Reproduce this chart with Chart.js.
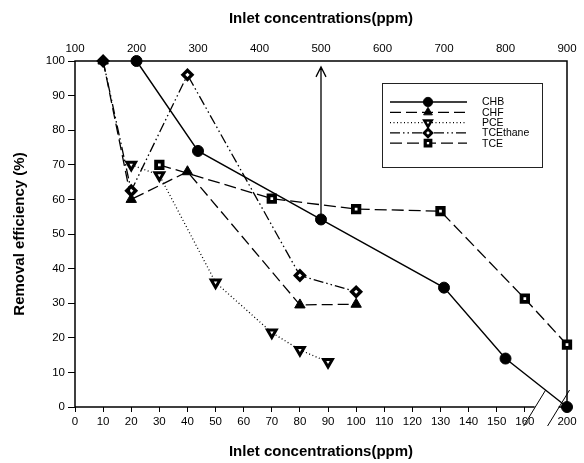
<!DOCTYPE html>
<html><head><meta charset="utf-8">
<script src="https://cdn.jsdelivr.net/npm/chart.js@4.4.0/dist/chart.umd.min.js"></script>
<style>html,body{margin:0;padding:0;background:#fff;}</style>
</head><body>
<canvas id="c" width="584" height="463"></canvas>
<script>
// ---- data ----
const seriesNames = ['CHB', 'CHF', 'PCE', 'TCEthane', 'TCE'];
const chbX = [200, 300, 500, 700, 800, 900];        // top axis (ppm)
const chbY = [100, 74, 54.2, 34.5, 14, 0];
const chfX = [10, 20, 40, 80, 100];                 // bottom axis (ppm)
const chfY = [100, 60, 68, 29.5, 29.7];
const pceX = [20, 30, 50, 70, 80, 90];
const pceY = [70, 67, 36, 21.5, 16.5, 13];
const tceaX = [10, 20, 40, 80, 100];
const tceaY = [100, 62.5, 96, 38, 33.3];
const tceX = [30, 70, 100, 130, 160, 200];
const tceY = [70, 60.2, 57.2, 56.6, 31.3, 18];
const bottomTicks = [0, 10, 20, 30, 40, 50, 60, 70, 80, 90, 100, 110, 120, 130, 140, 150, 160, 200];
const topTicks = [100, 200, 300, 400, 500, 600, 700, 800, 900];
const yTicks = [0, 10, 20, 30, 40, 50, 60, 70, 80, 90, 100];
const arrowAt = 500, arrowFrom = 54.2, arrowTo = 98.3;
const breakStart = 160, breakEnd = 200, breakSpan = 15;
const breakMarks = [163.5, 172];

// broken bottom axis: 160..200 compressed into 15 units
function brk(v) { return v <= breakStart ? v : breakStart + (v - breakStart) * breakSpan / (breakEnd - breakStart); }
function pts(xs, ys, bottom) { return xs.map((x, i) => ({ x: bottom ? brk(x) : x, y: ys[i] })); }

const FONT = "'Liberation Sans', Arial, sans-serif";
const black = '#000';

const datasets = [
  { label: seriesNames[0], data: pts(chbX, chbY, false), xAxisID: 'x2',
    borderColor: black, borderWidth: 1.4, pointStyle: 'circle', pointRadius: 5.5,
    pointBackgroundColor: black, pointBorderColor: black, pointBorderWidth: 1 },
  { label: seriesNames[1], data: pts(chfX, chfY, true), xAxisID: 'x',
    borderColor: black, borderWidth: 1.3, borderDash: [11, 5], pointStyle: 'triangle', pointRadius: 6,
    pointBackgroundColor: black, pointBorderColor: black, pointBorderWidth: 1 },
  { label: seriesNames[2], data: pts(pceX, pceY, true), xAxisID: 'x',
    borderColor: black, borderWidth: 1.3, borderDash: [1, 2.5], pointStyle: 'triangle', pointRotation: 180, pointRadius: 5,
    pointBackgroundColor: '#fff', pointBorderColor: black, pointBorderWidth: 3 },
  { label: seriesNames[3], data: pts(tceaX, tceaY, true), xAxisID: 'x',
    borderColor: black, borderWidth: 1.3, borderDash: [10, 3, 1.5, 3, 1.5, 3], pointStyle: 'rectRot', pointRadius: 4.5,
    pointBackgroundColor: '#fff', pointBorderColor: black, pointBorderWidth: 3.4 },
  { label: seriesNames[4], data: pts(tceX, tceY, true), xAxisID: 'x',
    borderColor: black, borderWidth: 1.3, borderDash: [12, 5], pointStyle: 'rect', pointRadius: 4.6,
    pointBackgroundColor: '#fff', pointBorderColor: black, pointBorderWidth: 3.8 }
];
datasets.forEach(d => { d.yAxisID = 'y'; d.tension = 0; d.fill = false; d.clip = false; d.pointHoverRadius = d.pointRadius; });

const framePlugin = {
  id: 'frame',
  beforeDatasetsDraw(chart) {
    const { ctx, chartArea: a, scales } = chart;
    const x = scales.x;
    ctx.save();
    ctx.strokeStyle = black; ctx.lineWidth = 1.5;
    ctx.beginPath();
    const g1 = x.getPixelForValue(breakMarks[0]), g2 = x.getPixelForValue(breakMarks[1]);
    ctx.moveTo(a.left, a.bottom); ctx.lineTo(g1, a.bottom);
    ctx.moveTo(g2, a.bottom); ctx.lineTo(a.right, a.bottom);
    ctx.lineTo(a.right, a.top); ctx.lineTo(a.left, a.top); ctx.lineTo(a.left, a.bottom);
    ctx.stroke();
    // break slashes
    ctx.lineWidth = 1;
    ctx.beginPath();
    breakMarks.forEach(m => {
      const px = x.getPixelForValue(m);
      ctx.moveTo(px - 11, a.bottom + 19); ctx.lineTo(px + 11, a.bottom - 17);
    });
    ctx.stroke();
    // arrow
    const ax = scales.x2.getPixelForValue(arrowAt);
    const y0 = scales.y.getPixelForValue(arrowFrom), y1 = scales.y.getPixelForValue(arrowTo);
    ctx.lineWidth = 1.3;
    ctx.beginPath();
    ctx.moveTo(ax, y0); ctx.lineTo(ax, y1);
    ctx.moveTo(ax - 5, y1 + 10); ctx.lineTo(ax, y1); ctx.lineTo(ax + 5, y1 + 10);
    ctx.stroke();
    ctx.restore();
  }
};

const legendPlugin = {
  id: 'customLegend',
  afterDatasetsDraw(chart) {
    const { ctx } = chart;
    const bx = 382, by = 83, bw = 160, bh = 84;
    ctx.save();
    ctx.fillStyle = '#fff'; ctx.fillRect(bx, by, bw, bh);
    ctx.strokeStyle = '#222'; ctx.lineWidth = 1; ctx.strokeRect(bx + 0.5, by + 0.5, bw, bh);
    ctx.font = '10.5px ' + FONT; ctx.textBaseline = 'middle'; ctx.fillStyle = black;
    chart.data.datasets.forEach((d, i) => {
      const y = by + 19 + i * 10.3;
      ctx.save();
      ctx.strokeStyle = black; ctx.lineWidth = d.borderWidth;
      ctx.setLineDash(d.borderDash || []);
      ctx.beginPath(); ctx.moveTo(bx + 8, y); ctx.lineTo(bx + 85, y); ctx.stroke();
      ctx.setLineDash([]);
      ctx.fillStyle = d.pointBackgroundColor; ctx.strokeStyle = d.pointBorderColor; ctx.lineWidth = d.pointBorderWidth * 0.85;
      Chart.helpers.drawPoint(ctx, { pointStyle: d.pointStyle, rotation: d.pointRotation || 0, radius: d.pointRadius * 0.85, borderWidth: d.pointBorderWidth * 0.85 }, bx + 46, y);
      ctx.restore();
      ctx.fillText(d.label, bx + 100, y + 0.5);
    });
    ctx.restore();
  }
};

const titleFont = { family: FONT, size: 15, weight: 'bold' };

new Chart(document.getElementById('c'), {
  type: 'line',
  data: { datasets },
  plugins: [framePlugin, legendPlugin],
  options: {
    responsive: false, animation: false, devicePixelRatio: 1,
    layout: { padding: { left: 0, right: 17, top: 0, bottom: 0 } },
    plugins: { legend: { display: false }, tooltip: { enabled: false } },
    scales: {
      x: {
        type: 'linear', position: 'bottom', min: 0, max: brk(200),
        afterBuildTicks(s) { s.ticks = bottomTicks.map(v => ({ value: brk(v) })); },
        afterFit(s) { s.height = 56; },
        ticks: { autoSkip: false, maxRotation: 0, padding: 3, color: black, font: { family: FONT, size: 11.5 },
                 callback: (v, i) => String(bottomTicks[i]) },
        grid: { display: true, drawOnChartArea: false, drawTicks: true, tickLength: 5, color: black, lineWidth: 1 },
        border: { display: false },
        title: { display: true, text: 'Inlet concentrations(ppm)', color: black, padding: { top: 0, bottom: 2 }, font: titleFont }
      },
      x2: {
        type: 'linear', position: 'top', min: 100, max: 900,
        afterBuildTicks(s) { s.ticks = topTicks.map(v => ({ value: v })); },
        afterFit(s) { s.height = 61; },
        ticks: { autoSkip: false, maxRotation: 0, padding: 5, color: black, font: { family: FONT, size: 11.5 } },
        grid: { display: false, drawTicks: false },
        border: { display: false },
        title: { display: true, text: 'Inlet concentrations(ppm)', color: black, padding: { top: 10, bottom: 0 }, font: titleFont }
      },
      y: {
        type: 'linear', position: 'left', min: 0, max: 100,
        afterBuildTicks(s) { s.ticks = yTicks.map(v => ({ value: v })); },
        afterFit(s) { s.width = 75; },
        ticks: { autoSkip: false, padding: 3, color: black, font: { family: FONT, size: 11.5 } },
        grid: { display: true, drawOnChartArea: false, drawTicks: true, tickLength: 7, color: black, lineWidth: 1 },
        border: { display: false },
        title: { display: true, text: 'Removal efficiency (%)', color: black, padding: { top: 11, bottom: 0 }, font: titleFont }
      }
    }
  }
});
</script>
</body></html>
